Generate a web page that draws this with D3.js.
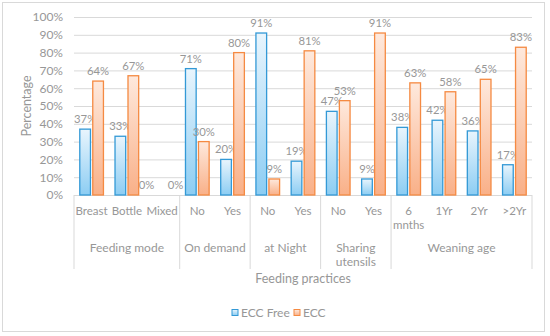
<!DOCTYPE html>
<html>
<head>
<meta charset="utf-8">
<script src="https://cdn.jsdelivr.net/npm/d3@7"></script>
<style>
body { margin:0; background:#fff; }
svg text { font-family: Lato, "Open Sans", sans-serif; fill:#979797; }
</style>
</head>
<body>
<div id="chart"></div>
<script>
const categories = ['Breast','Bottle','Mixed','No','Yes','No','Yes','No','Yes','6 mnths','1Yr','2Yr','>2Yr']
const groups = ['Feeding mode','On demand','at Night','Sharing utensils','Weaning age']
const groupSizes = [3,2,2,2,4]
const eccFree = [37,33,0,71,20,91,19,47,9,38,42,36,17]
const ecc = [64,67,0,30,80,9,81,53,91,63,58,65,83]
const yTicks = [0,10,20,30,40,50,60,70,80,90,100]
const seriesNames = ['ECC Free','ECC']

const width = 550, height = 336
const margin = {left:74, top:17, right:18, bottom:141}

const svg = d3.select('#chart').append('svg')
.attr('width', width)
.attr('height', height)

svg.append('rect')
.attr('x', 2.5).attr('y', 2.5)
.attr('width', 542).attr('height', 329)
.attr('fill', '#fff')
.attr('stroke', '#d9d9d9')

const defs = svg.append('defs')
const grads = [['grad-free','#e9f5fd','#8ccdf3'],['grad-ecc','#fee9dd','#f9b088']]
grads.forEach(g => {
	let lg = defs.append('linearGradient').attr('id', g[0]).attr('x1',0).attr('y1',0).attr('x2',0).attr('y2',1)
	lg.append('stop').attr('offset','0%').attr('stop-color', g[1])
	lg.append('stop').attr('offset','100%').attr('stop-color', g[2])
})
const strokes = ['#3399d6','#f58a42']

const keys = categories.map((c,i) => i)

const xScale = d3.scaleBand()
.domain(keys)
.range([margin.left, width - margin.right])
.paddingInner(0.3)
.paddingOuter(0.15)

const xSub = d3.scaleBand()
.domain([0,1])
.range([0, xScale.bandwidth()])
.paddingInner(0.1)

const yScale = d3.scaleLinear()
.domain([0,100])
.range([height - margin.bottom, margin.top])

// gridlines + y labels
const yAxis = svg.append('g')
.attr('transform', `translate(${margin.left},0)`)
.call(d3.axisLeft(yScale).tickValues(yTicks).tickSize(-(width - margin.left - margin.right)).tickPadding(11).tickFormat(d => d + '%'))

yAxis.select('.domain').remove()
yAxis.selectAll('line').attr('stroke', '#d9d9d9')
yAxis.selectAll('text').attr('font-size', 12).attr('fill', '#979797').style('font-family', 'Lato, sans-serif')

// bars
const data = [eccFree, ecc]
const bars = svg.append('g')

data.forEach((series, s) => {
	bars.selectAll('.bar-' + s)
	.data(series)
	.enter()
	.append('rect')
	.attr('x', (d,i) => xScale(i) + xSub(s) + 0.5)
	.attr('y', d => yScale(d))
	.attr('width', xSub.bandwidth() - 1)
	.attr('height', d => yScale(0) - yScale(d))
	.attr('fill', `url(#${grads[s][0]})`)
	.attr('stroke', strokes[s])
	.attr('stroke-width', 1.3)

	bars.selectAll('.lab-' + s)
	.data(series)
	.enter()
	.append('text')
	.attr('x', (d,i) => {
		let cx = xScale(i) + xSub(s) + xSub.bandwidth() / 2
		// both zero: push the labels apart
		if (eccFree[i] == 0 && ecc[i] == 0) cx += s == 0 ? -9 : 7
		return cx
	})
	.attr('y', d => yScale(d) - 6)
	.attr('text-anchor', 'middle')
	.attr('font-size', 11.3)
	.text(d => d + '%')
})

// category labels
const catLabels = svg.append('g')
categories.forEach((c,i) => {
	let words = c == '6 mnths' ? ['6','mnths'] : [c]
	words.forEach((w,j) => {
		catLabels.append('text')
		.attr('x', xScale(i) + xScale.bandwidth() / 2)
		.attr('y', 215 + j * 14)
		.attr('text-anchor', 'middle')
		.attr('font-size', 11.5)
		.text(w)
	})
})

// group labels and separators
const step = xScale.step()
const x0 = margin.left
let pos = 0
const seps = svg.append('g')
seps.append('line')
.attr('x1', x0).attr('x2', x0)
.attr('y1', yScale(0)).attr('y2', 269)
.attr('stroke', '#d9d9d9')

groups.forEach((g,i) => {
	let start = pos
	pos += groupSizes[i]
	let xs = x0 + pos * step
	seps.append('line')
	.attr('x1', xs).attr('x2', xs)
	.attr('y1', yScale(0)).attr('y2', 269)
	.attr('stroke', '#d9d9d9')

	let lines = g == 'Sharing utensils' ? ['Sharing','utensils'] : [g]
	lines.forEach((w,j) => {
		seps.append('text')
		.attr('x', x0 + (start + pos) / 2 * step)
		.attr('y', 252 + j * 14)
		.attr('text-anchor', 'middle')
		.attr('font-size', 12)
		.text(w)
	})
})

// axis titles
svg.append('text')
.attr('transform', `translate(31,${(yScale(0) + yScale(100)) / 2}) rotate(-90)`)
.attr('text-anchor', 'middle')
.attr('font-size', 12.5)
.text('Percentage')

svg.append('text')
.attr('x', (margin.left + width - margin.right) / 2)
.attr('y', 283)
.attr('text-anchor', 'middle')
.attr('font-size', 12.5)
.text('Feeding practices')

// legend
const legendX = [232, 294]
seriesNames.forEach((n,i) => {
	svg.append('rect')
	.attr('x', legendX[i]).attr('y', 309.5)
	.attr('width', 6).attr('height', 6)
	.attr('fill', `url(#${grads[i][0]})`)
	.attr('stroke', strokes[i])
	svg.append('text')
	.attr('x', legendX[i] + 9)
	.attr('y', 317)
	.attr('font-size', 12)
	.text(n)
})
</script>
</body>
</html>
